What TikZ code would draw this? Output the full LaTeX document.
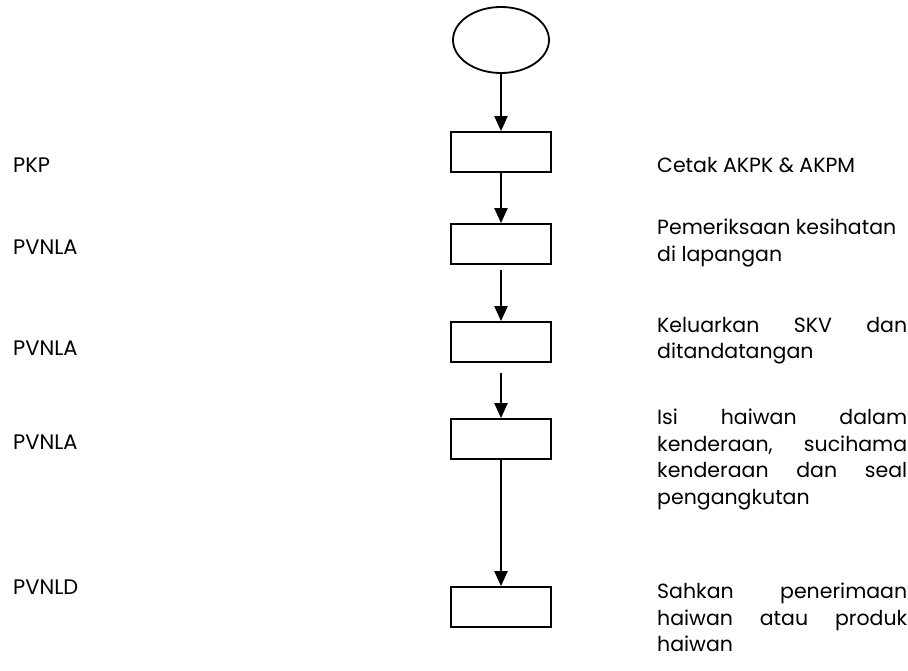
\documentclass[tikz,border=0pt]{standalone}
\usepackage{fontspec}
\setmainfont{Poppins}
\usetikzlibrary{shapes.geometric,arrows.meta}

\begin{document}
\begin{tikzpicture}[x=1pt,y=-1pt,
  kotak/.style={draw,line width=1.8pt,minimum width=100pt,minimum height=40pt,inner sep=0pt},
  anak/.style={line width=2.2pt,-{Triangle[length=15pt,width=13pt]}},
  ket/.style={anchor=north west,text width=250pt,align=justify,inner sep=0pt,font=\fontsize{20.5}{26.5}\selectfont},
  pgw/.style={anchor=west,inner sep=0pt,font=\fontsize{21}{26}\selectfont}]
\useasboundingbox (0,0) rectangle (908,671);
%\draw[gray] (0,0) rectangle (908,671);
\node[draw,ellipse,line width=1.8pt,minimum width=96pt,minimum height=66pt] (mula) at (501,40) {};
\node[kotak] (k1) at (501,152) {};
\node[kotak] (k2) at (501,244) {};
\node[kotak] (k3) at (501,342) {};
\node[kotak] (k4) at (501,439) {};
\node[kotak] (k5) at (501,607) {};
\draw[anak] (mula) -- (k1);
\draw[anak] (k1) -- (k2);
\draw[anak,shorten <=5pt] (k2) -- (k3);
\draw[anak,shorten <=10pt] (k3) -- (k4);
\draw[anak] (k4) -- (k5);
\foreach \t/\y [count=\i] in {PKP/165, PVNLA/247, PVNLA/348, PVNLA/442, PVNLD/587}
  \node[pgw] (p\i) at (13,\y) {\t};
\node[ket] (t1) at (657,157) {Cetak AKPK \& AKPM};
\node[ket] (t2) at (657,219) {Pemeriksaan kesihatan\\ di lapangan};
\node[ket] (t3) at (657,317) {Keluarkan SKV dan\linebreak ditandatangan};
\node[ket] (t4) at (657,409) {Isi haiwan dalam\linebreak kenderaan, sucihama\linebreak kenderaan dan seal\linebreak pengangkutan};
\node[ket] (t5) at (657,583) {Sahkan penerimaan\linebreak haiwan atau produk\linebreak haiwan};
\end{tikzpicture}
\end{document}
